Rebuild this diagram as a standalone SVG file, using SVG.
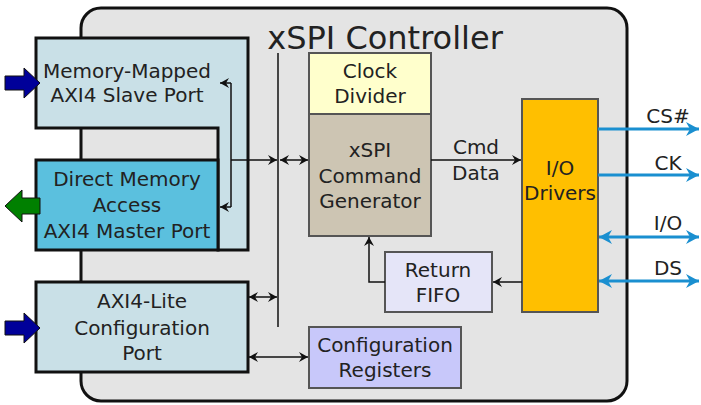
<svg xmlns="http://www.w3.org/2000/svg" width="701" height="405" viewBox="0 0 701 405">
<style>
text{font-family:"DejaVu Sans","Liberation Sans",sans-serif;fill:#222;font-size:20px;text-anchor:middle}
.port{stroke:#111;stroke-width:3}
.blk{stroke:#555;stroke-width:2}
.w{fill:none;stroke:#111;stroke-width:1.5}
.sig{fill:none;stroke:#1a8fd0;stroke-width:3}
</style>
<defs>
<marker id="ah" viewBox="-10 -5 10 10" refX="0" refY="0" markerWidth="10" markerHeight="10" markerUnits="userSpaceOnUse" orient="auto-start-reverse">
<path d="M0,0 L-9,-5 L-6,0 L-9,5 Z" fill="#111"/>
</marker>
<marker id="bh" viewBox="-14 -7 14 14" refX="0" refY="0" markerWidth="14" markerHeight="14" markerUnits="userSpaceOnUse" orient="auto-start-reverse">
<path d="M0,0 L-13,-7 L-9,0 L-13,7 Z" fill="#1a8fd0"/>
</marker>
</defs>
<g id="container">
<rect x="81" y="8" width="546" height="393" rx="20" fill="#e4e4e4" stroke="#111" stroke-width="3"/>
<text x="385" y="49" style="font-size:32px">xSPI Controller</text>
</g>
<g id="slave-port">
<path class="port" d="M36,38 H248 V250 H218 V128 H36 Z" fill="#c9e0e7"/>
<text x="127" y="78">Memory-Mapped</text>
<text x="127" y="102">AXI4 Slave Port</text>
</g>
<g id="dma">
<rect class="port" x="36" y="160" width="182" height="90" fill="#5bc0de"/>
<text x="127" y="186">Direct Memory</text>
<text x="127" y="212">Access</text>
<text x="127" y="238">AXI4 Master Port</text>
</g>
<g id="axi-lite">
<rect class="port" x="36" y="282" width="212" height="90" fill="#c9e0e7"/>
<text x="142" y="308">AXI4-Lite</text>
<text x="142" y="335">Configuration</text>
<text x="142" y="360">Port</text>
</g>
<g id="clock-divider">
<rect class="blk" x="309" y="53" width="122" height="61" fill="#ffffcc"/>
<text x="370" y="78">Clock</text>
<text x="370" y="103">Divider</text>
</g>
<g id="cmd-gen">
<rect class="blk" x="309" y="114" width="122" height="122" fill="#cdc5b3"/>
<text x="370" y="157">xSPI</text>
<text x="370" y="183">Command</text>
<text x="370" y="208">Generator</text>
</g>
<g id="io-drivers">
<rect class="blk" x="522" y="99" width="76" height="213" fill="#ffbf00"/>
<text x="560" y="175">I/O</text>
<text x="560" y="200">Drivers</text>
</g>
<g id="return-fifo">
<rect class="blk" x="385" y="252" width="107" height="60" fill="#e5e5f8"/>
<text x="438" y="277">Return</text>
<text x="438" y="302">FIFO</text>
</g>
<g id="config-regs">
<rect class="blk" x="309" y="327" width="152" height="61" fill="#c8c8fa"/>
<text x="385" y="352">Configuration</text>
<text x="385" y="377">Registers</text>
</g>
<g id="ext-arrows" stroke="#111" stroke-width="1">
<path d="M5,76 H24 V68 L40,83 L24,98 V90 H5 Z" fill="#000099"/>
<path d="M40,198 H22 V190 L5,206 L22,222 V214 H40 Z" fill="#008000"/>
<path d="M5,321 H24 V313 L40,328 L24,343 V335 H5 Z" fill="#000099"/>
</g>
<g id="connectors">
<path class="w" d="M278,53 V327"/>
<path class="w" d="M231,83 V207"/>
<path class="w" d="M231,83 H220" marker-end="url(#ah)"/>
<path class="w" d="M231,207 H220" marker-end="url(#ah)"/>
<path class="w" d="M231,160 H277" marker-end="url(#ah)"/>
<path class="w" d="M280,160 H308" marker-start="url(#ah)" marker-end="url(#ah)"/>
<path class="w" d="M249,297 H277" marker-start="url(#ah)" marker-end="url(#ah)"/>
<path class="w" d="M249,357 H308" marker-start="url(#ah)" marker-end="url(#ah)"/>
<path class="w" d="M431,160 H521" marker-end="url(#ah)"/>
<path class="w" d="M522,282 H493" marker-end="url(#ah)" stroke="#444"/>
<path class="w" d="M385,282 H369 V237" marker-end="url(#ah)" stroke="#444"/>
<path class="sig" d="M598,129 H699" marker-end="url(#bh)"/>
<path class="sig" d="M598,175 H699" marker-end="url(#bh)"/>
<path class="sig" d="M599,237 H699" marker-start="url(#bh)" marker-end="url(#bh)"/>
<path class="sig" d="M599,281 H699" marker-start="url(#bh)" marker-end="url(#bh)"/>
<text x="476" y="154">Cmd</text>
<text x="476" y="180">Data</text>
<text x="668" y="123">CS#</text>
<text x="668" y="170">CK</text>
<text x="668" y="230">I/O</text>
<text x="668" y="275">DS</text>
</g>
</svg>
